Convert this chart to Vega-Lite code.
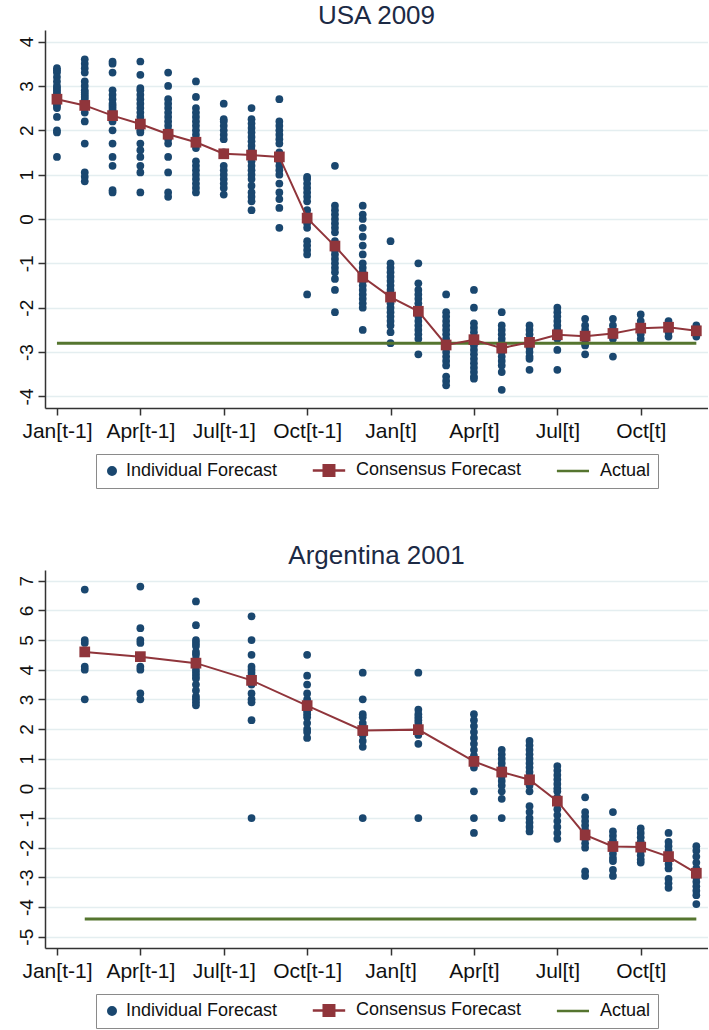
{
  "$schema": "https://vega.github.io/schema/vega-lite/v6.json",
  "background": "white",
  "padding": {"left": 17, "top": 3, "right": 0, "bottom": 0},
  "spacing": 54,
  "config": {
    "font": "Liberation Sans",
    "view": {"stroke": null},
    "axis": {"domainColor": "#333333", "tickColor": "#333333", "labelColor": "#111111", "labelFont": "Liberation Sans", "tickSize": 7, "domainWidth": 1.5, "tickWidth": 1.5, "gridColor": "#e4eef0", "gridWidth": 1.5},
    "title": {"fontSize": 26, "fontWeight": "normal", "color": "#1c2a45", "font": "Liberation Sans", "offset": 1, "anchor": "middle"},
    "legend": {"layout": {"bottom": {"anchor": "middle", "bounds": "flush"}}}
  },
  "datasets": {
    "usa_individual": [
      {"month":0,"value":3.4},{"month":0,"value":3.35},{"month":0,"value":3.3},{"month":0,"value":3.2},{"month":0,"value":3.1},{"month":0,"value":3.0},{"month":0,"value":2.95},{"month":0,"value":2.9},{"month":0,"value":2.85},{"month":0,"value":2.8},{"month":0,"value":2.75},{"month":0,"value":2.7},{"month":0,"value":2.65},{"month":0,"value":2.6},{"month":0,"value":2.55},{"month":0,"value":2.5},{"month":0,"value":2.3},{"month":0,"value":2.0},{"month":0,"value":1.95},{"month":0,"value":1.4},
      {"month":1,"value":3.6},{"month":1,"value":3.5},{"month":1,"value":3.4},{"month":1,"value":3.3},{"month":1,"value":3.1},{"month":1,"value":3.0},{"month":1,"value":2.9},{"month":1,"value":2.85},{"month":1,"value":2.8},{"month":1,"value":2.75},{"month":1,"value":2.7},{"month":1,"value":2.6},{"month":1,"value":2.5},{"month":1,"value":2.4},{"month":1,"value":2.2},{"month":1,"value":1.7},{"month":1,"value":1.05},{"month":1,"value":0.95},{"month":1,"value":0.85},
      {"month":2,"value":3.55},{"month":2,"value":3.5},{"month":2,"value":3.3},{"month":2,"value":2.9},{"month":2,"value":2.8},{"month":2,"value":2.7},{"month":2,"value":2.6},{"month":2,"value":2.55},{"month":2,"value":2.5},{"month":2,"value":2.45},{"month":2,"value":2.4},{"month":2,"value":2.2},{"month":2,"value":2.0},{"month":2,"value":1.7},{"month":2,"value":1.4},{"month":2,"value":1.2},{"month":2,"value":0.65},{"month":2,"value":0.6},
      {"month":3,"value":3.55},{"month":3,"value":3.25},{"month":3,"value":2.95},{"month":3,"value":2.9},{"month":3,"value":2.8},{"month":3,"value":2.7},{"month":3,"value":2.6},{"month":3,"value":2.5},{"month":3,"value":2.4},{"month":3,"value":2.3},{"month":3,"value":2.2},{"month":3,"value":2.1},{"month":3,"value":2.0},{"month":3,"value":1.95},{"month":3,"value":1.7},{"month":3,"value":1.55},{"month":3,"value":1.4},{"month":3,"value":1.2},{"month":3,"value":1.05},{"month":3,"value":0.6},
      {"month":4,"value":3.3},{"month":4,"value":3.0},{"month":4,"value":2.7},{"month":4,"value":2.6},{"month":4,"value":2.5},{"month":4,"value":2.4},{"month":4,"value":2.3},{"month":4,"value":2.2},{"month":4,"value":2.1},{"month":4,"value":2.0},{"month":4,"value":1.9},{"month":4,"value":1.8},{"month":4,"value":1.7},{"month":4,"value":1.4},{"month":4,"value":1.05},{"month":4,"value":0.6},{"month":4,"value":0.5},
      {"month":5,"value":3.1},{"month":5,"value":2.75},{"month":5,"value":2.5},{"month":5,"value":2.4},{"month":5,"value":2.3},{"month":5,"value":2.2},{"month":5,"value":2.1},{"month":5,"value":2.0},{"month":5,"value":1.9},{"month":5,"value":1.8},{"month":5,"value":1.7},{"month":5,"value":1.6},{"month":5,"value":1.3},{"month":5,"value":1.2},{"month":5,"value":1.1},{"month":5,"value":1.0},{"month":5,"value":0.9},{"month":5,"value":0.8},{"month":5,"value":0.7},{"month":5,"value":0.6},
      {"month":6,"value":2.6},{"month":6,"value":2.25},{"month":6,"value":2.2},{"month":6,"value":2.1},{"month":6,"value":2.0},{"month":6,"value":1.9},{"month":6,"value":1.8},{"month":6,"value":1.5},{"month":6,"value":1.2},{"month":6,"value":1.1},{"month":6,"value":1.0},{"month":6,"value":0.9},{"month":6,"value":0.8},{"month":6,"value":0.7},{"month":6,"value":0.55},
      {"month":7,"value":2.5},{"month":7,"value":2.25},{"month":7,"value":2.15},{"month":7,"value":2.05},{"month":7,"value":1.95},{"month":7,"value":1.85},{"month":7,"value":1.75},{"month":7,"value":1.65},{"month":7,"value":1.55},{"month":7,"value":1.3},{"month":7,"value":1.2},{"month":7,"value":1.1},{"month":7,"value":1.0},{"month":7,"value":0.9},{"month":7,"value":0.75},{"month":7,"value":0.6},{"month":7,"value":0.5},{"month":7,"value":0.4},{"month":7,"value":0.2},
      {"month":8,"value":2.7},{"month":8,"value":2.2},{"month":8,"value":2.1},{"month":8,"value":2.0},{"month":8,"value":1.9},{"month":8,"value":1.8},{"month":8,"value":1.7},{"month":8,"value":1.5},{"month":8,"value":1.4},{"month":8,"value":1.3},{"month":8,"value":1.2},{"month":8,"value":1.1},{"month":8,"value":1.0},{"month":8,"value":0.8},{"month":8,"value":0.6},{"month":8,"value":0.45},{"month":8,"value":0.25},{"month":8,"value":-0.2},
      {"month":9,"value":0.95},{"month":9,"value":0.9},{"month":9,"value":0.8},{"month":9,"value":0.7},{"month":9,"value":0.6},{"month":9,"value":0.5},{"month":9,"value":0.4},{"month":9,"value":0.2},{"month":9,"value":0.1},{"month":9,"value":0},{"month":9,"value":-0.1},{"month":9,"value":-0.2},{"month":9,"value":-0.5},{"month":9,"value":-0.6},{"month":9,"value":-0.7},{"month":9,"value":-0.8},{"month":9,"value":-1.7},
      {"month":10,"value":1.2},{"month":10,"value":0.3},{"month":10,"value":0.2},{"month":10,"value":0.1},{"month":10,"value":0},{"month":10,"value":-0.1},{"month":10,"value":-0.2},{"month":10,"value":-0.3},{"month":10,"value":-0.5},{"month":10,"value":-0.6},{"month":10,"value":-0.7},{"month":10,"value":-0.8},{"month":10,"value":-0.9},{"month":10,"value":-1.0},{"month":10,"value":-1.1},{"month":10,"value":-1.2},{"month":10,"value":-1.35},{"month":10,"value":-1.6},{"month":10,"value":-2.1},
      {"month":11,"value":0.3},{"month":11,"value":0.1},{"month":11,"value":0},{"month":11,"value":-0.2},{"month":11,"value":-0.4},{"month":11,"value":-0.6},{"month":11,"value":-0.8},{"month":11,"value":-1.0},{"month":11,"value":-1.1},{"month":11,"value":-1.2},{"month":11,"value":-1.3},{"month":11,"value":-1.4},{"month":11,"value":-1.5},{"month":11,"value":-1.6},{"month":11,"value":-1.7},{"month":11,"value":-1.8},{"month":11,"value":-1.9},{"month":11,"value":-2.0},{"month":11,"value":-2.5},
      {"month":12,"value":-0.5},{"month":12,"value":-1.0},{"month":12,"value":-1.1},{"month":12,"value":-1.2},{"month":12,"value":-1.3},{"month":12,"value":-1.4},{"month":12,"value":-1.5},{"month":12,"value":-1.6},{"month":12,"value":-1.7},{"month":12,"value":-1.8},{"month":12,"value":-1.9},{"month":12,"value":-2.0},{"month":12,"value":-2.1},{"month":12,"value":-2.2},{"month":12,"value":-2.3},{"month":12,"value":-2.4},{"month":12,"value":-2.55},{"month":12,"value":-2.8},
      {"month":13,"value":-1.0},{"month":13,"value":-1.45},{"month":13,"value":-1.6},{"month":13,"value":-1.7},{"month":13,"value":-1.8},{"month":13,"value":-1.9},{"month":13,"value":-2.0},{"month":13,"value":-2.1},{"month":13,"value":-2.2},{"month":13,"value":-2.3},{"month":13,"value":-2.4},{"month":13,"value":-2.5},{"month":13,"value":-2.6},{"month":13,"value":-2.7},{"month":13,"value":-3.05},
      {"month":14,"value":-1.7},{"month":14,"value":-2.1},{"month":14,"value":-2.2},{"month":14,"value":-2.3},{"month":14,"value":-2.4},{"month":14,"value":-2.5},{"month":14,"value":-2.6},{"month":14,"value":-2.7},{"month":14,"value":-2.8},{"month":14,"value":-2.9},{"month":14,"value":-3.0},{"month":14,"value":-3.1},{"month":14,"value":-3.2},{"month":14,"value":-3.3},{"month":14,"value":-3.55},{"month":14,"value":-3.65},{"month":14,"value":-3.75},
      {"month":15,"value":-1.6},{"month":15,"value":-2.0},{"month":15,"value":-2.35},{"month":15,"value":-2.45},{"month":15,"value":-2.55},{"month":15,"value":-2.65},{"month":15,"value":-2.75},{"month":15,"value":-2.85},{"month":15,"value":-2.95},{"month":15,"value":-3.05},{"month":15,"value":-3.15},{"month":15,"value":-3.25},{"month":15,"value":-3.35},{"month":15,"value":-3.45},{"month":15,"value":-3.55},{"month":15,"value":-3.6},
      {"month":16,"value":-2.1},{"month":16,"value":-2.4},{"month":16,"value":-2.5},{"month":16,"value":-2.6},{"month":16,"value":-2.7},{"month":16,"value":-2.8},{"month":16,"value":-2.9},{"month":16,"value":-3.0},{"month":16,"value":-3.1},{"month":16,"value":-3.2},{"month":16,"value":-3.3},{"month":16,"value":-3.45},{"month":16,"value":-3.85},
      {"month":17,"value":-2.4},{"month":17,"value":-2.5},{"month":17,"value":-2.6},{"month":17,"value":-2.7},{"month":17,"value":-2.8},{"month":17,"value":-2.9},{"month":17,"value":-3.0},{"month":17,"value":-3.1},{"month":17,"value":-3.15},{"month":17,"value":-3.4},
      {"month":18,"value":-2.0},{"month":18,"value":-2.1},{"month":18,"value":-2.2},{"month":18,"value":-2.3},{"month":18,"value":-2.4},{"month":18,"value":-2.5},{"month":18,"value":-2.6},{"month":18,"value":-2.7},{"month":18,"value":-2.95},{"month":18,"value":-3.4},
      {"month":19,"value":-2.25},{"month":19,"value":-2.4},{"month":19,"value":-2.5},{"month":19,"value":-2.6},{"month":19,"value":-2.7},{"month":19,"value":-2.8},{"month":19,"value":-2.85},{"month":19,"value":-3.05},
      {"month":20,"value":-2.25},{"month":20,"value":-2.4},{"month":20,"value":-2.5},{"month":20,"value":-2.6},{"month":20,"value":-2.7},{"month":20,"value":-3.1},
      {"month":21,"value":-2.15},{"month":21,"value":-2.3},{"month":21,"value":-2.4},{"month":21,"value":-2.5},{"month":21,"value":-2.6},{"month":21,"value":-2.7},
      {"month":22,"value":-2.3},{"month":22,"value":-2.35},{"month":22,"value":-2.45},{"month":22,"value":-2.55},{"month":22,"value":-2.65},
      {"month":23,"value":-2.4},{"month":23,"value":-2.45},{"month":23,"value":-2.55},{"month":23,"value":-2.65}
    ],
    "usa_consensus": [
      {"month":0,"value":2.70},{"month":1,"value":2.56},{"month":2,"value":2.33},{"month":3,"value":2.14},{"month":4,"value":1.91},{"month":5,"value":1.73},{"month":6,"value":1.47},{"month":7,"value":1.44},{"month":8,"value":1.40},{"month":9,"value":0.02},{"month":10,"value":-0.61},{"month":11,"value":-1.31},{"month":12,"value":-1.76},{"month":13,"value":-2.08},{"month":14,"value":-2.84},{"month":15,"value":-2.72},{"month":16,"value":-2.91},{"month":17,"value":-2.78},{"month":18,"value":-2.61},{"month":19,"value":-2.64},{"month":20,"value":-2.58},{"month":21,"value":-2.46},{"month":22,"value":-2.44},{"month":23,"value":-2.52}
    ],
    "usa_actual": [
      {"month":0,"value":-2.8},{"month":1,"value":-2.8},{"month":2,"value":-2.8},{"month":3,"value":-2.8},{"month":4,"value":-2.8},{"month":5,"value":-2.8},{"month":6,"value":-2.8},{"month":7,"value":-2.8},{"month":8,"value":-2.8},{"month":9,"value":-2.8},{"month":10,"value":-2.8},{"month":11,"value":-2.8},{"month":12,"value":-2.8},{"month":13,"value":-2.8},{"month":14,"value":-2.8},{"month":15,"value":-2.8},{"month":16,"value":-2.8},{"month":17,"value":-2.8},{"month":18,"value":-2.8},{"month":19,"value":-2.8},{"month":20,"value":-2.8},{"month":21,"value":-2.8},{"month":22,"value":-2.8},{"month":23,"value":-2.8}
    ],
    "arg_individual": [
      {"month":1,"value":6.7},{"month":1,"value":5.0},{"month":1,"value":4.9},{"month":1,"value":4.1},{"month":1,"value":4.0},{"month":1,"value":3.0},
      {"month":3,"value":6.8},{"month":3,"value":5.4},{"month":3,"value":5.0},{"month":3,"value":4.9},{"month":3,"value":4.1},{"month":3,"value":4.0},{"month":3,"value":3.2},{"month":3,"value":3.0},
      {"month":5,"value":6.3},{"month":5,"value":5.5},{"month":5,"value":5.0},{"month":5,"value":4.9},{"month":5,"value":4.8},{"month":5,"value":4.6},{"month":5,"value":4.5},{"month":5,"value":4.35},{"month":5,"value":4.2},{"month":5,"value":4.0},{"month":5,"value":3.9},{"month":5,"value":3.8},{"month":5,"value":3.7},{"month":5,"value":3.5},{"month":5,"value":3.3},{"month":5,"value":3.1},{"month":5,"value":3.0},{"month":5,"value":2.9},{"month":5,"value":2.8},
      {"month":7,"value":5.8},{"month":7,"value":5.0},{"month":7,"value":4.5},{"month":7,"value":4.1},{"month":7,"value":4.0},{"month":7,"value":3.9},{"month":7,"value":3.8},{"month":7,"value":3.7},{"month":7,"value":3.6},{"month":7,"value":3.5},{"month":7,"value":3.2},{"month":7,"value":3.0},{"month":7,"value":2.9},{"month":7,"value":2.3},{"month":7,"value":-1.0},
      {"month":9,"value":4.5},{"month":9,"value":3.8},{"month":9,"value":3.5},{"month":9,"value":3.2},{"month":9,"value":3.0},{"month":9,"value":2.9},{"month":9,"value":2.8},{"month":9,"value":2.7},{"month":9,"value":2.6},{"month":9,"value":2.5},{"month":9,"value":2.4},{"month":9,"value":2.2},{"month":9,"value":2.0},{"month":9,"value":1.9},{"month":9,"value":1.7},
      {"month":11,"value":3.9},{"month":11,"value":3.0},{"month":11,"value":2.5},{"month":11,"value":2.4},{"month":11,"value":2.2},{"month":11,"value":2.1},{"month":11,"value":2.0},{"month":11,"value":1.9},{"month":11,"value":1.8},{"month":11,"value":1.6},{"month":11,"value":1.4},{"month":11,"value":-1.0},
      {"month":13,"value":3.9},{"month":13,"value":2.65},{"month":13,"value":2.5},{"month":13,"value":2.4},{"month":13,"value":2.3},{"month":13,"value":2.2},{"month":13,"value":2.0},{"month":13,"value":1.8},{"month":13,"value":1.5},{"month":13,"value":-1.0},
      {"month":15,"value":2.5},{"month":15,"value":2.3},{"month":15,"value":2.1},{"month":15,"value":1.9},{"month":15,"value":1.7},{"month":15,"value":1.5},{"month":15,"value":1.3},{"month":15,"value":1.1},{"month":15,"value":0.9},{"month":15,"value":0.7},{"month":15,"value":-0.1},{"month":15,"value":-1.0},{"month":15,"value":-1.5},
      {"month":16,"value":1.3},{"month":16,"value":1.15},{"month":16,"value":1.0},{"month":16,"value":0.85},{"month":16,"value":0.7},{"month":16,"value":0.55},{"month":16,"value":0.4},{"month":16,"value":0.25},{"month":16,"value":0.1},{"month":16,"value":-0.1},{"month":16,"value":-0.35},{"month":16,"value":-1.0},
      {"month":17,"value":1.6},{"month":17,"value":1.45},{"month":17,"value":1.3},{"month":17,"value":1.15},{"month":17,"value":1.0},{"month":17,"value":0.85},{"month":17,"value":0.7},{"month":17,"value":0.55},{"month":17,"value":0.4},{"month":17,"value":0.25},{"month":17,"value":0.1},{"month":17,"value":-0.1},{"month":17,"value":-0.6},{"month":17,"value":-0.8},{"month":17,"value":-1.0},{"month":17,"value":-1.15},{"month":17,"value":-1.3},{"month":17,"value":-1.45},
      {"month":18,"value":0.75},{"month":18,"value":0.6},{"month":18,"value":0.45},{"month":18,"value":0.3},{"month":18,"value":0.15},{"month":18,"value":0},{"month":18,"value":-0.1},{"month":18,"value":-0.3},{"month":18,"value":-0.5},{"month":18,"value":-0.7},{"month":18,"value":-0.9},{"month":18,"value":-1.1},{"month":18,"value":-1.3},{"month":18,"value":-1.5},{"month":18,"value":-1.7},
      {"month":19,"value":-0.3},{"month":19,"value":-0.8},{"month":19,"value":-0.95},{"month":19,"value":-1.1},{"month":19,"value":-1.25},{"month":19,"value":-1.4},{"month":19,"value":-1.55},{"month":19,"value":-1.7},{"month":19,"value":-1.85},{"month":19,"value":-2.0},{"month":19,"value":-2.8},{"month":19,"value":-2.95},
      {"month":20,"value":-0.8},{"month":20,"value":-1.45},{"month":20,"value":-1.6},{"month":20,"value":-1.75},{"month":20,"value":-1.9},{"month":20,"value":-2.05},{"month":20,"value":-2.2},{"month":20,"value":-2.35},{"month":20,"value":-2.45},{"month":20,"value":-2.75},{"month":20,"value":-2.95},
      {"month":21,"value":-1.35},{"month":21,"value":-1.5},{"month":21,"value":-1.65},{"month":21,"value":-1.8},{"month":21,"value":-1.95},{"month":21,"value":-2.1},{"month":21,"value":-2.25},{"month":21,"value":-2.4},{"month":21,"value":-2.5},
      {"month":22,"value":-1.5},{"month":22,"value":-1.8},{"month":22,"value":-1.95},{"month":22,"value":-2.1},{"month":22,"value":-2.25},{"month":22,"value":-2.4},{"month":22,"value":-2.55},{"month":22,"value":-2.7},{"month":22,"value":-3.05},{"month":22,"value":-3.2},{"month":22,"value":-3.35},
      {"month":23,"value":-1.95},{"month":23,"value":-2.1},{"month":23,"value":-2.3},{"month":23,"value":-2.5},{"month":23,"value":-2.7},{"month":23,"value":-2.85},{"month":23,"value":-3.0},{"month":23,"value":-3.15},{"month":23,"value":-3.3},{"month":23,"value":-3.45},{"month":23,"value":-3.6},{"month":23,"value":-3.9}
    ],
    "arg_consensus": [
      {"month":1,"value":4.60},{"month":3,"value":4.44},{"month":5,"value":4.22},{"month":7,"value":3.64},{"month":9,"value":2.79},{"month":11,"value":1.95},{"month":13,"value":1.98},{"month":15,"value":0.91},{"month":16,"value":0.55},{"month":17,"value":0.29},{"month":18,"value":-0.43},{"month":19,"value":-1.57},{"month":20,"value":-1.96},{"month":21,"value":-1.98},{"month":22,"value":-2.30},{"month":23,"value":-2.86}
    ],
    "arg_actual": [
      {"month":1,"value":-4.4},{"month":3,"value":-4.4},{"month":5,"value":-4.4},{"month":7,"value":-4.4},{"month":9,"value":-4.4},{"month":11,"value":-4.4},{"month":13,"value":-4.4},{"month":15,"value":-4.4},{"month":16,"value":-4.4},{"month":17,"value":-4.4},{"month":18,"value":-4.4},{"month":19,"value":-4.4},{"month":20,"value":-4.4},{"month":21,"value":-4.4},{"month":22,"value":-4.4},{"month":23,"value":-4.4}
    ]
  },
  "vconcat": [
    {
      "title": {"text": "USA 2009"},
      "width": 663,
      "height": 378,
      "encoding": {
        "x": {"field": "month", "type": "quantitative", "scale": {"domain": [-0.43, 23.42], "nice": false, "zero": false}, "axis": {"values": [0, 3, 6, 9, 12, 15, 18, 21], "labelExpr": "['Jan','Apr','Jul','Oct'][(datum.value/3)%4] + (datum.value < 12 ? '[t-1]' : '[t]')", "grid": false, "title": null, "labelFontSize": 21, "labelPadding": 5, "labelFlush": false, "labelOverlap": false}},
        "y": {"field": "value", "type": "quantitative", "scale": {"domain": [-4.26, 4.26], "nice": false, "zero": false}, "axis": {"values": [-4, -3, -2, -1, 0, 1, 2, 3, 4], "labelExpr": "'' + datum.value", "labelAngle": -90, "labelAlign": "center", "labelBaseline": "bottom", "grid": true, "title": null, "labelFontSize": 19, "labelPadding": 2}}
      },
      "layer": [
        {
          "data": {"name": "usa_consensus"},
          "mark": {"type": "point", "filled": true, "size": 0, "opacity": 1},
          "encoding": {
            "color": {"datum": "Individual Forecast", "scale": {"domain": ["Individual Forecast", "Consensus Forecast", "Actual"], "range": ["#1a476f", "#90353b", "#55752f"]},
              "legend": {"orient": "bottom", "direction": "horizontal", "title": null, "offset": 13, "symbolSize": 144, "symbolStrokeWidth": 2.5, "symbolOpacity": 1, "labelFontSize": 18, "labelFont": "Liberation Sans", "labelColor": "#111111", "labelOffset": 5, "labelLimit": 300, "columnPadding": 29, "padding": 7, "strokeColor": "#8a8a8a"}},
            "shape": {"datum": "Individual Forecast", "scale": {"domain": ["Individual Forecast", "Consensus Forecast", "Actual"], "range": ["M-0.625,0A0.625,0.625 0 1,0 0.625,0A0.625,0.625 0 1,0 -0.625,0Z", "M-4.87,0H0.53M-3.045,-0.875H-1.295V0.875H-3.045Z", "M-4.85,0H0.5"]}},
            "stroke": {"datum": "Individual Forecast", "scale": {"domain": ["Individual Forecast", "Consensus Forecast", "Actual"], "range": ["transparent", "#a0454b", "#55752f"]}}
          }
        },
        {
          "data": {"name": "usa_individual"},
          "mark": {"type": "point", "filled": true, "shape": "circle", "size": 60, "opacity": 1},
          "encoding": {"color": {"datum": "Individual Forecast"}}
        },
        {
          "data": {"name": "usa_actual"},
          "mark": {"type": "line", "strokeWidth": 3},
          "encoding": {"color": {"datum": "Actual"}}
        },
        {
          "data": {"name": "usa_consensus"},
          "mark": {"type": "line", "strokeWidth": 2},
          "encoding": {"color": {"datum": "Consensus Forecast"}}
        },
        {
          "data": {"name": "usa_consensus"},
          "mark": {"type": "point", "filled": true, "shape": "square", "size": 115, "opacity": 1},
          "encoding": {"color": {"datum": "Consensus Forecast"}}
        }
      ]
    },
    {
      "title": {"text": "Argentina 2001"},
      "width": 663,
      "height": 378,
      "encoding": {
        "x": {"field": "month", "type": "quantitative", "scale": {"domain": [-0.43, 23.42], "nice": false, "zero": false}, "axis": {"values": [0, 3, 6, 9, 12, 15, 18, 21], "labelExpr": "['Jan','Apr','Jul','Oct'][(datum.value/3)%4] + (datum.value < 12 ? '[t-1]' : '[t]')", "grid": false, "title": null, "labelFontSize": 21, "labelPadding": 5, "labelFlush": false, "labelOverlap": false}},
        "y": {"field": "value", "type": "quantitative", "scale": {"domain": [-5.38, 7.36], "nice": false, "zero": false}, "axis": {"values": [-5, -4, -3, -2, -1, 0, 1, 2, 3, 4, 5, 6, 7], "labelExpr": "'' + datum.value", "labelAngle": -90, "labelAlign": "center", "labelBaseline": "bottom", "grid": true, "title": null, "labelFontSize": 19, "labelPadding": 2}}
      },
      "layer": [
        {
          "data": {"name": "arg_consensus"},
          "mark": {"type": "point", "filled": true, "size": 0, "opacity": 1},
          "encoding": {
            "color": {"datum": "Individual Forecast", "scale": {"domain": ["Individual Forecast", "Consensus Forecast", "Actual"], "range": ["#1a476f", "#90353b", "#55752f"]},
              "legend": {"orient": "bottom", "direction": "horizontal", "title": null, "offset": 13, "symbolSize": 144, "symbolStrokeWidth": 2.5, "symbolOpacity": 1, "labelFontSize": 18, "labelFont": "Liberation Sans", "labelColor": "#111111", "labelOffset": 5, "labelLimit": 300, "columnPadding": 29, "padding": 7, "strokeColor": "#8a8a8a"}},
            "shape": {"datum": "Individual Forecast", "scale": {"domain": ["Individual Forecast", "Consensus Forecast", "Actual"], "range": ["M-0.625,0A0.625,0.625 0 1,0 0.625,0A0.625,0.625 0 1,0 -0.625,0Z", "M-4.87,0H0.53M-3.045,-0.875H-1.295V0.875H-3.045Z", "M-4.85,0H0.5"]}},
            "stroke": {"datum": "Individual Forecast", "scale": {"domain": ["Individual Forecast", "Consensus Forecast", "Actual"], "range": ["transparent", "#a0454b", "#55752f"]}}
          }
        },
        {
          "data": {"name": "arg_individual"},
          "mark": {"type": "point", "filled": true, "shape": "circle", "size": 60, "opacity": 1},
          "encoding": {"color": {"datum": "Individual Forecast"}}
        },
        {
          "data": {"name": "arg_actual"},
          "mark": {"type": "line", "strokeWidth": 3},
          "encoding": {"color": {"datum": "Actual"}}
        },
        {
          "data": {"name": "arg_consensus"},
          "mark": {"type": "line", "strokeWidth": 2},
          "encoding": {"color": {"datum": "Consensus Forecast"}}
        },
        {
          "data": {"name": "arg_consensus"},
          "mark": {"type": "point", "filled": true, "shape": "square", "size": 115, "opacity": 1},
          "encoding": {"color": {"datum": "Consensus Forecast"}}
        }
      ]
    }
  ],
  "resolve": {
    "scale": {"color": "independent", "shape": "independent", "stroke": "independent"},
    "legend": {"color": "independent", "shape": "independent", "stroke": "independent"}
  }
}
